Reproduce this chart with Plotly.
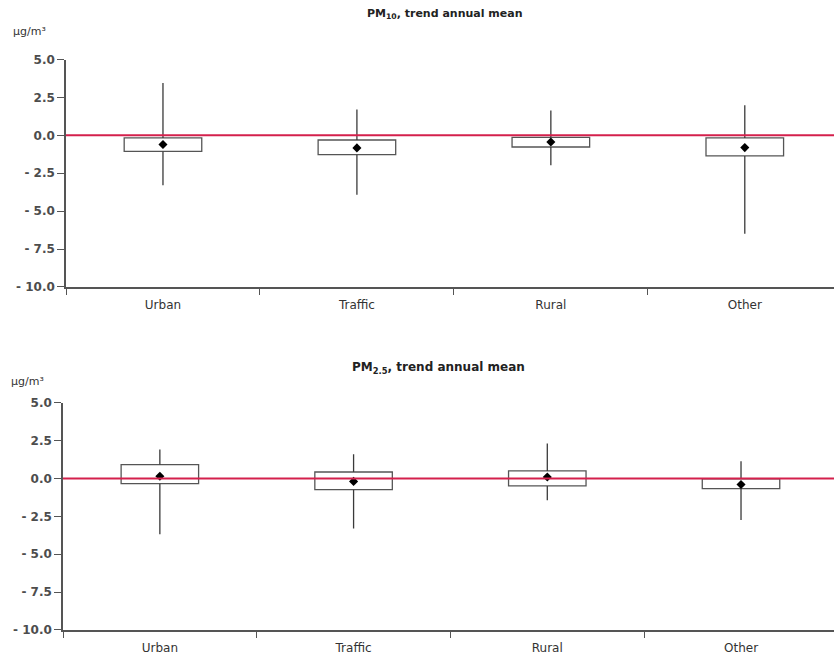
import plotly.graph_objects as go

categories = ["Urban", "Traffic", "Rural", "Other"]

# PM10 trend annual mean (µg/m3 per year)
pm10_max = [3.45, 1.70, 1.63, 1.98]
pm10_q3 = [-0.17, -0.31, -0.13, -0.17]
pm10_q1 = [-1.06, -1.28, -0.77, -1.36]
pm10_mean = [-0.61, -0.83, -0.44, -0.81]
pm10_min = [-3.30, -3.92, -1.98, -6.50]

# PM2.5 trend annual mean
pm25_max = [1.91, 1.60, 2.31, 1.14]
pm25_q3 = [0.92, 0.43, 0.50, -0.03]
pm25_q1 = [-0.34, -0.74, -0.49, -0.67]
pm25_mean = [0.15, -0.19, 0.10, -0.40]
pm25_min = [-3.69, -3.30, -1.44, -2.74]

ytick_vals = [5, 2.5, 0, -2.5, -5, -7.5, -10]
ytick_text = ["5.0", "2.5", "0.0", "- 2.5", "- 5.0", "- 7.5", "- 10.0"]

FONT = "DejaVu Sans"
BOXCOL = "#555555"
RED = "#d4204c"

fig = go.Figure()


def add_panel(mx, q3, q1, mean, mn, xa, ya):
    wx, wy = [], []
    for c, a, b, lo, hi in zip(categories, q3, q1, mn, mx):
        wx += [c, c, None, c, c, None]
        wy += [a, hi, None, lo, b, None]
    fig.add_trace(go.Scatter(
        x=wx, y=wy, mode="lines", line=dict(color="#3a3a3a", width=1.3),
        xaxis=xa, yaxis=ya, showlegend=False, hoverinfo="skip", connectgaps=False))
    fig.add_trace(go.Bar(
        x=categories, y=[a - b for a, b in zip(q3, q1)], base=q1, width=0.4,
        marker=dict(color="white", line=dict(color=BOXCOL, width=1.3)),
        xaxis=xa, yaxis=ya, showlegend=False, hoverinfo="skip"))
    fig.add_trace(go.Scatter(
        x=categories, y=mean, mode="markers",
        marker=dict(symbol="diamond", size=7, color="black"),
        xaxis=xa, yaxis=ya, showlegend=False, hoverinfo="skip"))
    fig.add_shape(type="line", xref=f"{xa} domain", yref=ya, x0=0, x1=1, y0=0, y1=0,
                  line=dict(color=RED, width=2), layer="above")


add_panel(pm10_max, pm10_q3, pm10_q1, pm10_mean, pm10_min, "x", "y")
add_panel(pm25_max, pm25_q3, pm25_q1, pm25_mean, pm25_min, "x2", "y2")

H = 660.0
W = 834.0
K = 0.977


def py(p):
    # pixel row -> paper fraction (with small vertical compensation)
    return 1 - (330 + (p - 330) / K) / H


xcommon = dict(type="category", categoryorder="array", categoryarray=categories,
               showline=True, linecolor="#555555", linewidth=1.5,
               ticks="outside", ticklen=6, tickcolor="#555555", tickson="boundaries",
               ticklabelstandoff=6,
               tickfont=dict(family=FONT, size=12, color="#333333"),
               showgrid=False, zeroline=False, fixedrange=True)
ycommon = dict(range=[-10, 5], tickvals=ytick_vals, ticktext=ytick_text,
               showline=True, linecolor="#555555", linewidth=1.5,
               ticks="outside", ticklen=7, tickcolor="#555555",
               tickfont=dict(family=FONT, size=12, color="#4d4d4d", weight="bold"),
               showgrid=False, zeroline=False, fixedrange=True)

fig.update_layout(
    width=834, height=660,
    margin=dict(l=0, r=0, t=0, b=0),
    paper_bgcolor="white", plot_bgcolor="white",
    barmode="overlay",
    xaxis=dict(domain=[66 / W, 1], range=[-0.5, 3.46], anchor="y", **xcommon),
    yaxis=dict(domain=[py(287), py(60)], anchor="x", **ycommon),
    xaxis2=dict(domain=[63 / W, 1], range=[-0.5, 3.48], anchor="y2", **xcommon),
    yaxis2=dict(domain=[py(629.3), py(402.7)], anchor="x2", **ycommon),
    annotations=[
        dict(text="<b>PM<sub>10</sub>, trend annual mean</b>", xref="paper", yref="paper",
             x=445 / W, y=py(15), showarrow=False, xanchor="center", yanchor="middle",
             font=dict(family=FONT, size=11, color="#222222")),
        dict(text="µg/m³", xref="paper", yref="paper",
             x=11 / W, y=py(32), showarrow=False, xanchor="left", yanchor="middle",
             font=dict(family=FONT, size=11, color="#333333")),
        dict(text="<b>PM<sub>2.5</sub>, trend annual mean</b>", xref="paper", yref="paper",
             x=439 / W, y=py(368), showarrow=False, xanchor="center", yanchor="middle",
             font=dict(family=FONT, size=12, color="#222222")),
        dict(text="µg/m³", xref="paper", yref="paper",
             x=9 / W, y=py(381), showarrow=False, xanchor="left", yanchor="middle",
             font=dict(family=FONT, size=11, color="#333333")),
    ],
)

fig.write_html("out.html")
